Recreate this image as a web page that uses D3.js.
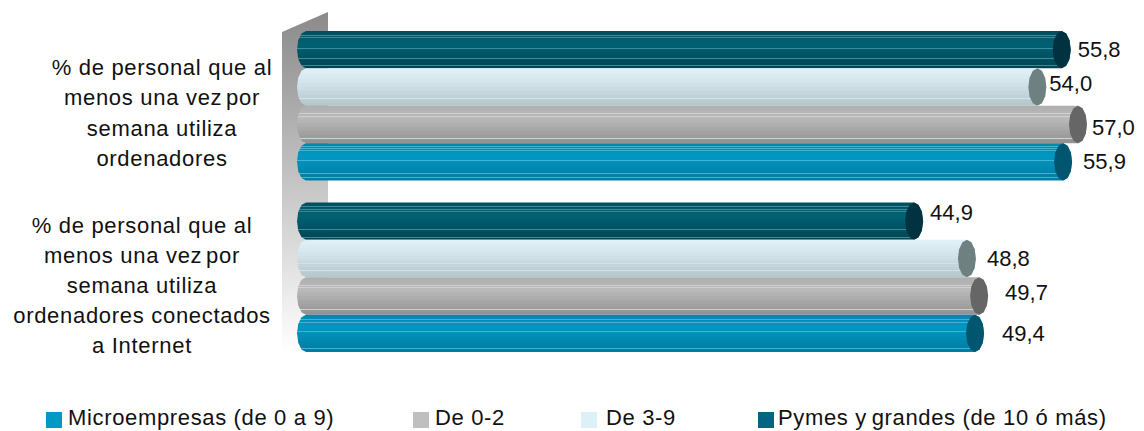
<!DOCTYPE html>
<html>
<head>
<meta charset="utf-8">
<script src="https://cdn.jsdelivr.net/npm/d3@7"></script>
<style>
  html, body { margin: 0; padding: 0; background: #fff; }
  text { font-family: "Liberation Sans", Arial, sans-serif; fill: #111; }
</style>
</head>
<body>
<div id="chart"></div>
<script>
'use strict';

const categories = [
    ['% de personal que al', 'menos una vez por', 'semana utiliza', 'ordenadores'],
    ['% de personal que al', 'menos una vez por', 'semana utiliza', 'ordenadores conectados', 'a Internet']
];
const seriesNames = ['Pymes y grandes (de 10 ó más)', 'De 3-9', 'De 0-2', 'Microempresas (de 0 a 9)'];
const pymes = [55.8, 44.9];
const de3a9 = [54.0, 48.8];
const de0a2 = [57.0, 49.7];
const micro = [55.9, 49.4];
const seriesValues = [pymes, de3a9, de0a2, micro];

// legend runs in the opposite order from the bars
const legendOrder = [3, 2, 1, 0];
const legendX = [46, 413, 581, 758];
const legendGap = [22, 22, 25, 20];

// colours: swatch, bar top, bar middle, bar bottom, end cap, stripe + where the stripes sit
const seriesColors = [
    { swatch: '#006680', top: '#02505f', mid: '#006274', bot: '#004352', cap: '#00323f', stripe: '#3f8a99', stripes: [0.1, 0.17, 0.23, 0.46, 0.72, 0.92] },
    { swatch: '#dcf0f7', top: '#dff1f7', mid: '#d5e7ed', bot: '#b2c4c9', cap: '#6f8080', stripe: '#d3e2e6', stripes: [0.62, 0.8] },
    { swatch: '#bfbfbf', top: '#b0b0b0', mid: '#bababa', bot: '#8f8f8f', cap: '#666666', stripe: '#d0d0d0', stripes: [0.2, 0.27, 0.86] },
    { swatch: '#0099c6', top: '#0088ae', mid: '#0097c2', bot: '#007a9e', cap: '#00566f', stripe: '#45b2d0', stripes: [0.08, 0.13, 0.19, 0.45, 0.8, 0.9] }
];

// hand placed labels in the original, nudged off the bar end [dx, dy]
const labelNudge = [
    [[16, 0], [16, -8]],
    [[12, -3], [20, 0]],
    [[14, 3], [26, -3]],
    [[20, 0], [27, 0]]
];

// words the original sets almost against the previous one, and by how much
const tightWords = { por: -3, grandes: -2 };

const width = 1144, height = 431;

const svg = d3.select('#chart').append('svg')
    .attr('width', width)
    .attr('height', height)
    .style('display', 'block');

const x = d3.scaleLinear().domain([0, 60]).range([306, 1118.6]);
const y0 = d3.scaleBand().domain(d3.range(categories.length)).range([20, 363]).paddingInner(0.128).paddingOuter(0.064);
const y1 = d3.scaleBand().domain(d3.range(seriesNames.length)).range([0, y0.bandwidth()]);

const defs = svg.append('defs');

// banded gradient for the striped cylinders
const bandCount = 14;
const stripeH = 0.022;
seriesColors.forEach((c, i) => {
    const shade = d3.scaleLinear().domain([0, 0.3, 1]).range([c.top, c.mid, c.bot]);
    const grad = defs.append('linearGradient')
        .attr('id', `bar-${i}`)
        .attr('x1', 0).attr('y1', 0).attr('x2', 0).attr('y2', 1);
    const edges = [...d3.range(bandCount + 1).map(b => b / bandCount), ...c.stripes, ...c.stripes.map(s => s + stripeH)]
        .sort(d3.ascending);
    d3.pairs(edges).forEach(([from, to]) => {
        const inStripe = c.stripes.some(s => from >= s && from < s + stripeH);
        const col = inStripe ? c.stripe : shade(Math.floor(from * bandCount) / bandCount);
        grad.append('stop').attr('offset', from).attr('stop-color', col);
        grad.append('stop').attr('offset', to).attr('stop-color', col);
    });
});

const wallGrad = defs.append('linearGradient')
    .attr('id', 'wall')
    .attr('x1', 0).attr('y1', 0).attr('x2', 0).attr('y2', 1);
wallGrad.append('stop').attr('offset', 0).attr('stop-color', '#8a8a8a');
wallGrad.append('stop').attr('offset', 1).attr('stop-color', '#ffffff');

// back wall of the 3d chart
svg.append('path')
    .attr('d', 'M282,32L328,12V352H282Z')
    .attr('fill', 'url(#wall)');

// faceted half ellipses for the cylinder ends
const capRx = 9;
function capPoints(cx, top, h, fromDeg, toDeg) {
    const pts = [];
    for (let a = fromDeg; a <= toDeg; a += 30) {
        const r = a * Math.PI / 180;
        pts.push([cx + capRx * Math.cos(r), top + h / 2 + h / 2 * Math.sin(r)]);
    }
    return pts;
}
const line = d3.line().curve(d3.curveLinearClosed);

// writes a line into el, pulling the tight words back over their space
function writeLine(el, str) {
    str.split(' ').forEach((w, i, all) => {
        const tail = i < all.length - 1 ? ' ' : '';
        el.append('tspan')
            .attr('dx', tightWords[w] || null)
            .text(w + tail);
    });
}

categories.forEach((cat, gi) => {
    const g = svg.append('g').attr('transform', `translate(0,${y0(gi)})`);
    seriesValues.forEach((vals, si) => {
        const v = vals[gi];
        const top = y1(si), h = y1.bandwidth();
        g.append('path')
            .attr('d', line([...capPoints(x(0), top, h, 90, 270), ...capPoints(x(v), top, h, -90, 90)]))
            .attr('fill', `url(#bar-${si})`);
        g.append('path')
            .attr('d', line(capPoints(x(v), top, h, 0, 330)))
            .attr('fill', seriesColors[si].cap);
    });
});

// value labels go on top of every bar
categories.forEach((cat, gi) => {
    seriesValues.forEach((vals, si) => {
        const v = vals[gi];
        const n = labelNudge[si][gi];
        svg.append('text')
            .attr('x', x(v) + n[0])
            .attr('y', y0(gi) + y1(si) + y1.bandwidth() / 2 + n[1])
            .attr('dy', '0.33em')
            .attr('font-size', 22)
            .text(d3.format('.1f')(v).replace('.', ','));
    });
});

// category labels, multi line and centred
const catCenterX = [162, 142];
const catLine = [30.5, 29.8];
const catShift = [7.5, 8.5];
categories.forEach((cat, gi) => {
    const mid = y0(gi) + y0.bandwidth() / 2 + catShift[gi];
    cat.forEach((l, i) => {
        const t = svg.append('text')
            .attr('x', catCenterX[gi])
            .attr('y', mid + (i - (cat.length - 1) / 2) * catLine[gi])
            .attr('dy', '0.33em')
            .attr('text-anchor', 'middle')
            .attr('font-size', 22)
            .style('letter-spacing', '0.7px');
        writeLine(t, l);
    });
});

// legend
const legend = svg.append('g').selectAll('g')
    .data(legendOrder)
    .join('g')
    .attr('transform', (d, i) => `translate(${legendX[i]},412)`);
legend.append('rect')
    .attr('width', 16)
    .attr('height', 16)
    .attr('fill', d => seriesColors[d].swatch);
legend.append('text')
    .attr('x', (d, i) => legendGap[i])
    .attr('y', 13)
    .attr('font-size', 22)
    .style('letter-spacing', '0.65px')
    .each(function (d) { writeLine(d3.select(this), seriesNames[d]); });
</script>
</body>
</html>
